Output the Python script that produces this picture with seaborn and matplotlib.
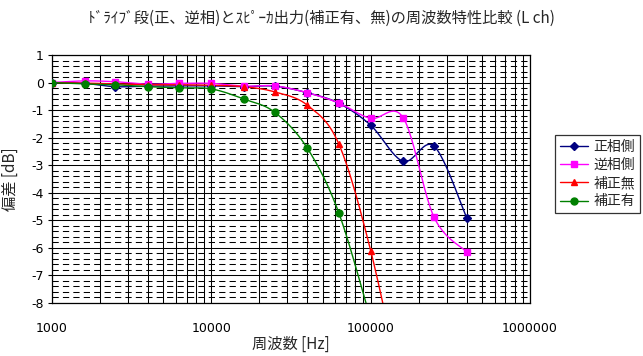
import numpy as np
import pandas as pd
import seaborn as sns
import matplotlib
matplotlib.use("Agg")
import matplotlib.pyplot as plt
from matplotlib.lines import Line2D
from matplotlib.ticker import FixedLocator, FuncFormatter, MultipleLocator

# data
freq = [1000, 1600, 2500, 4000, 6300, 10000, 16000, 25000, 40000,
        63000, 100000, 160000, 250000, 400000]
seisou = [0.0, -0.03, -0.15, -0.13, -0.12, -0.12, -0.15, -0.13, -0.37,
          -0.75, -1.55, -2.86, -2.31, -4.9]
gyakusou = [0.0, 0.06, 0.03, -0.06, -0.03, -0.03, -0.13, -0.12, -0.37,
            -0.74, -1.3, -1.28, -4.89, -6.14]
hosei_nashi = [0.0, -0.02, -0.05, -0.08, -0.08, -0.1, -0.15, -0.34, -0.82,
               -2.22, -6.1, -11.5]
hosei_ari = [0.0, -0.05, -0.08, -0.15, -0.19, -0.23, -0.6, -1.08, -2.38,
             -4.72, -8.6]

names = ["正相側", "逆相側", "補正無", "補正有"]
colors = ["#000080", "#FF00FF", "#FF0000", "#008000"]
markers = ["D", "s", "^", "o"]
msizes = [3.8, 5, 5, 5]


def smooth(xs, ys, n=24):
    # excel style smoothed line (bezier through points, in log-x space)
    lx = np.log10(np.asarray(xs, float))
    y = np.asarray(ys, float)
    pts = np.column_stack([lx, y])
    k = len(pts)
    out = []
    for i in range(k - 1):
        p0 = pts[i]
        p3 = pts[i + 1]
        pm = pts[max(i - 1, 0)]
        pp = pts[min(i + 2, k - 1)]
        c1 = p0 + (p3 - pm) / 6
        c2 = p3 - (pp - p0) / 6
        t = np.linspace(0, 1, n)[:, None]
        seg = ((1 - t) ** 3) * p0 + 3 * ((1 - t) ** 2) * t * c1 + 3 * (1 - t) * t ** 2 * c2 + t ** 3 * p3
        out.append(seg if i == 0 else seg[1:])
    out = np.vstack(out)
    return 10 ** out[:, 0], out[:, 1]


sns.set_style("white")
plt.rcParams['font.family'] = ['Noto Sans CJK JP', 'DejaVu Sans']
plt.rcParams['axes.unicode_minus'] = False

fig = plt.figure(figsize=(6.43, 3.56), dpi=100)
ax = fig.add_axes([0.0809, 0.1489, 0.8243 - 0.0809, 0.8455 - 0.1489])

series = [seisou, gyakusou, hosei_nashi, hosei_ari]
handles = []
for vals, name, c, m, ms in zip(series, names, colors, markers, msizes):
    f = freq[:len(vals)]
    sx, sy = smooth(f, vals)
    sns.lineplot(x=sx, y=sy, sort=False, estimator=None, color=c, lw=1, ax=ax)
    df = pd.DataFrame({"f": f, "v": vals})
    ax.plot(df["f"], df["v"], linestyle="none", marker=m, markersize=ms,
            color=c, markeredgecolor=c, zorder=4)
    handles.append(Line2D([], [], color=c, lw=1, marker=m, markersize=ms, label=name))

ax.set_xscale("log")
ax.set_xlim(1000, 1000000)
ax.set_ylim(-8, 1)

ax.xaxis.set_major_locator(FixedLocator([1e3, 1e4, 1e5, 1e6]))
ax.xaxis.set_major_formatter(FuncFormatter(lambda v, p: "%d" % round(v)))
minor_x = [m * 10 ** d for d in range(3, 6) for m in range(2, 10)]
ax.xaxis.set_minor_locator(FixedLocator(minor_x))
ax.xaxis.set_minor_formatter(FuncFormatter(lambda v, p: ""))
ax.yaxis.set_major_locator(MultipleLocator(1))
ax.yaxis.set_minor_locator(MultipleLocator(0.2))

ax.grid(True, which="major", axis="both", color="black", lw=0.75)
ax.grid(True, which="minor", axis="x", color="black", lw=0.75)
ax.grid(True, which="minor", axis="y", color="black", lw=0.75, linestyle=(0, (6, 4)))
ax.set_axisbelow(True)

for sp in ax.spines.values():
    sp.set_color("black")
    sp.set_linewidth(0.9)

ax.tick_params(axis="x", which="both", length=0, pad=14, labelsize=9, colors="black")
ax.tick_params(axis="y", which="major", length=3, pad=3, labelsize=9, colors="black", left=True)
ax.tick_params(axis="y", which="minor", length=0)
for lab in ax.get_xticklabels() + ax.get_yticklabels():
    lab.set_family("DejaVu Sans")

ax.set_xlabel("周波数 [Hz]", fontsize=11, labelpad=0)
ax.set_ylabel("偏差 [dB]", fontsize=11, labelpad=9)

fig.text(0.5, 0.949, "ﾄﾞﾗｲﾌﾞ段(正、逆相)とｽﾋﾟｰｶ出力(補正有、無)の周波数特性比較 (L ch)",
         ha="center", va="center", fontsize=11)

leg = ax.legend(handles=handles, loc="upper left", bbox_to_anchor=(1.052, 0.677),
                frameon=True, fontsize=10, fancybox=False, borderpad=0.35,
                labelspacing=0.3, handlelength=2.0, handletextpad=0.4, borderaxespad=0)
leg.get_frame().set_edgecolor("black")
leg.get_frame().set_linewidth(0.9)

fig.savefig("out.png", dpi=100)
